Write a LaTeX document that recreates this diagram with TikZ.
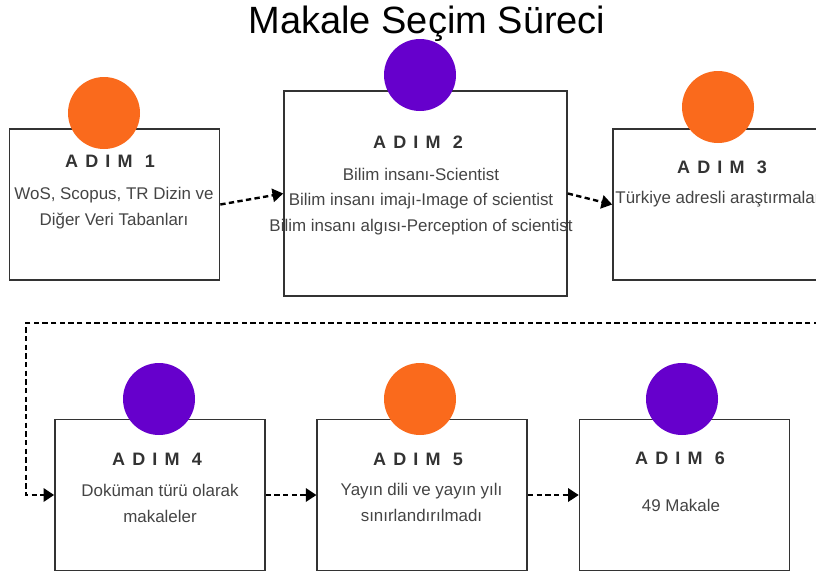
\documentclass[tikz,border=0pt]{standalone}
\usepackage{fontspec}
\setmainfont{Liberation Sans}
\newfontfamily\adimfont[LetterSpace=40]{Liberation Sans}
\usetikzlibrary{arrows.meta,positioning}
\definecolor{adimorange}{RGB}{250,106,28}
\definecolor{adimpurple}{RGB}{102,0,204}
\definecolor{textgray}{RGB}{68,68,68}
\definecolor{boxgray}{RGB}{51,51,51}

\begin{document}
\begin{tikzpicture}[
  x=0.75pt, y=-0.75pt,
  stepbox/.style={rectangle, draw=boxgray, line width=1.2pt, minimum width=157.5pt, minimum height=113pt, inner sep=0pt},
  badge/.style={circle, minimum size=54pt, inner sep=0pt},
  adim/.style={anchor=base, font=\adimfont\bfseries\fontsize{13.5}{16}\selectfont, text=boxgray},
  steptext/.style={anchor=base, align=center, font=\fontsize{12.7}{18.8}\selectfont, text=textgray},
  flow/.style={-{Triangle[length=8pt,width=10pt]}, dash pattern=on 4pt off 2.5pt, line width=1.8pt},
  node distance=38pt,
]
\useasboundingbox (0,0) rectangle (816,575);

\node[anchor=base, font=\fontsize{28.5}{34}\selectfont] (title) at (427,33) {Makale Seçim Süreci};

% first row
\node[stepbox] (box1) at (114.5,204.5) {};
\node[stepbox, minimum width=212.25pt, minimum height=153.75pt] (box2) at (425.5,193.5) {};
\node[stepbox] (box3) at (718,204.5) {};

% second row
\node[stepbox] (box4) at (160,495) {};
\node[stepbox, right=of box4] (box5) {};
\node[stepbox, right=of box5] (box6) {};

% badges
\node[badge, fill=adimorange] (dot1) at (104,113) {};
\node[badge, fill=adimpurple] (dot2) at (420,75) {};
\node[badge, fill=adimorange] (dot3) at (718,107) {};
\node[badge, fill=adimpurple] (dot4) at (159,399) {};
\node[badge, fill=adimorange] (dot5) at (420,399) {};
\node[badge, fill=adimpurple] (dot6) at (682,399) {};

% labels
\node[adim] (adim1) at (110,167.5) {ADIM 1};
\node[adim] (adim2) at (418,148.5) {ADIM 2};
\node[adim] (adim3) at (722,173.5) {ADIM 3};
\node[adim] (adim4) at (157,465.5) {ADIM 4};
\node[adim] (adim5) at (418,465.5) {ADIM 5};
\node[adim] (adim6) at (680,464.5) {ADIM 6};

% base = last line
\node[steptext] (text1) at (114,225) {WoS, Scopus, TR Dizin ve\\Diğer Veri Tabanları};
\node[steptext] (text2) at (421,231) {Bilim insanı-Scientist\\Bilim insanı imajı-Image of scientist\\Bilim insanı algısı-Perception of scientist};
\node[steptext] (text3) at (718,203) {Türkiye adresli araştırmalar};
\node[steptext] (text4) at (160,522) {Doküman türü olarak\\makaleler};
\node[steptext] (text5) at (421.5,521) {Yayın dili ve yayın yılı\\sınırlandırılmadı};
\node[steptext] (text6) at (681,511) {49 Makale};

% connectors
\coordinate (turnL) at (26,323);
\draw[flow] (box1.east) -- (box2.west);
\draw[flow] (box2.east) -- (box3.west);
\draw[flow] (box3.east) -- ++(12,0) |- (turnL) |- (box4.west);
\draw[flow] (box4.east) -- (box5.west);
\draw[flow] (box5.east) -- (box6.west);
\end{tikzpicture}
\end{document}
